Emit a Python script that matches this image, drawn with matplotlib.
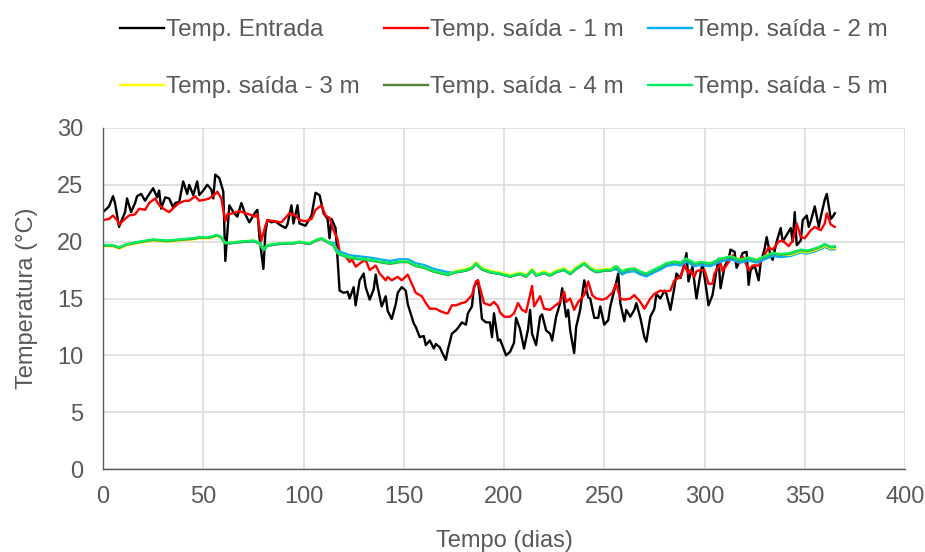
import matplotlib
matplotlib.use("Agg")
import matplotlib.pyplot as plt

plt.rcParams['font.family'] = ['Liberation Sans', 'DejaVu Sans']

# ---------------- dados ----------------
dias_entrada = [0, 3, 5, 6, 8, 11, 12, 14, 16, 17, 19, 21, 22, 25, 27, 28, 29, 31, 33, 35,
                36, 38, 40, 42, 43, 45, 47, 48, 50, 52, 54, 55, 56, 58, 60, 61, 63, 65, 67, 69,
                71, 73, 76, 77, 78, 80, 81, 82, 84, 86, 88, 91, 92, 94, 95, 97, 98, 101, 104, 106,
                108, 110, 112, 113, 114, 116, 117, 118, 120, 122, 123, 125, 126, 128, 130, 131, 133, 135, 136, 137,
                139, 141, 142, 144, 146, 147, 149, 151, 152, 155, 156, 158, 160, 161, 163, 165, 166, 168, 169, 171,
                172, 174, 176, 177, 179, 181, 182, 184, 185, 187, 188, 189, 191, 193, 194, 195, 197, 198, 200, 201,
                203, 205, 206, 208, 210, 212, 213, 214, 216, 218, 219, 221, 223, 224, 226, 228, 229, 231, 232, 233,
                235, 236, 238, 240, 242, 243, 245, 247, 248, 250, 252, 253, 255, 257, 258, 260, 261, 263, 265, 266,
                268, 270, 271, 273, 275, 276, 278, 280, 281, 283, 285, 286, 288, 290, 291, 292, 294, 296, 298, 299,
                301, 302, 304, 306, 307, 308, 310, 312, 313, 315, 316, 318, 319, 321, 322, 323, 325, 327, 328, 330,
                331, 333, 334, 336, 338, 339, 341, 343, 344, 345, 346, 348, 349, 351, 352, 353, 355, 357, 358, 360,
                361, 363, 364, 365]
temp_entrada = [22.6, 23.1, 24.0, 23.4, 21.3, 22.6, 23.8, 22.6, 23.4, 24.0, 24.2, 23.6, 23.9, 24.7, 23.9, 24.5, 22.9, 23.9, 23.8, 23.0,
                23.4, 23.5, 25.3, 24.2, 25.0, 24.1, 25.3, 24.1, 24.5, 25.0, 24.6, 23.8, 25.9, 25.6, 24.4, 18.3, 23.2, 22.6, 22.2, 23.4,
                22.4, 21.7, 22.6, 22.8, 20.4, 17.6, 20.8, 21.9, 21.7, 21.8, 21.5, 21.2, 21.5, 23.2, 21.6, 23.2, 21.6, 21.4, 22.3, 24.3,
                24.1, 22.5, 22.0, 20.3, 22.0, 21.2, 18.4, 15.7, 15.5, 15.6, 15.0, 16.0, 14.4, 16.6, 17.2, 16.0, 14.9, 15.8, 17.1, 16.0,
                14.3, 15.2, 13.9, 13.2, 14.5, 15.5, 16.0, 15.7, 14.5, 12.8, 12.5, 11.6, 11.7, 10.9, 11.3, 10.6, 11.0, 10.7, 10.3, 9.6,
                10.5, 11.9, 12.2, 12.4, 12.9, 12.7, 13.7, 14.3, 16.0, 16.6, 15.1, 13.2, 12.9, 12.9, 11.6, 13.7, 11.3, 11.4, 10.5, 10.0,
                10.3, 11.1, 13.3, 12.3, 10.6, 12.3, 14.0, 11.9, 10.9, 13.4, 13.6, 12.2, 11.9, 11.3, 13.4, 14.6, 15.9, 13.4, 14.0, 12.2,
                10.2, 12.5, 14.0, 16.6, 15.1, 15.0, 13.3, 13.3, 14.3, 12.7, 13.1, 14.3, 15.7, 17.2, 14.6, 13.0, 14.0, 13.4, 14.0, 14.6,
                13.3, 11.6, 11.2, 13.4, 14.1, 15.4, 15.0, 15.7, 15.4, 14.0, 16.0, 17.2, 16.8, 18.1, 19.0, 16.5, 17.8, 15.0, 17.2, 18.1,
                15.7, 14.4, 15.3, 17.5, 18.5, 15.9, 17.8, 18.5, 19.3, 19.1, 17.7, 18.5, 19.0, 19.1, 16.2, 17.5, 17.9, 16.6, 18.1, 19.4,
                20.4, 18.7, 18.4, 20.0, 21.2, 20.0, 20.6, 21.2, 20.0, 22.6, 19.7, 20.1, 21.9, 22.3, 21.3, 21.8, 23.1, 21.3, 22.2, 23.7,
                24.2, 22.0, 22.2, 22.5]

dias_1m = [0, 3, 5, 7, 8, 11, 13, 16, 18, 21, 23, 26, 28, 31, 33, 36, 38, 41, 43, 46,
           48, 51, 53, 56, 57, 59, 61, 62, 65, 68, 71, 73, 76, 77, 79, 81, 82, 89, 93, 96,
           98, 101, 104, 106, 109, 111, 113, 115, 117, 118, 121, 123, 124, 126, 129, 131, 133, 136, 138, 141,
           142, 144, 147, 149, 152, 154, 156, 159, 161, 163, 166, 168, 171, 172, 174, 176, 179, 181, 184, 186,
           187, 189, 190, 193, 195, 197, 198, 200, 203, 205, 207, 209, 211, 214, 215, 218, 220, 223, 225, 228,
           230, 231, 233, 235, 237, 240, 242, 244, 246, 249, 251, 254, 256, 258, 260, 263, 265, 268, 270, 273,
           275, 278, 280, 283, 285, 288, 290, 292, 293, 295, 296, 298, 300, 302, 304, 305, 308, 309, 312, 314,
           317, 319, 322, 324, 327, 329, 332, 334, 337, 339, 342, 344, 346, 348, 350, 353, 355, 358, 360, 361,
           363, 365]
temp_1m = [21.9, 22.0, 22.3, 21.9, 21.5, 22.0, 22.3, 22.4, 22.9, 22.8, 23.4, 23.8, 23.2, 22.8, 22.6, 23.1, 23.4, 23.6, 23.6, 24.0,
           23.6, 23.7, 23.8, 24.2, 24.4, 23.8, 21.8, 22.4, 22.5, 22.7, 22.5, 22.4, 22.2, 22.4, 20.1, 21.4, 21.9, 21.7, 22.5, 22.3,
           21.9, 21.8, 22.0, 22.8, 23.2, 22.3, 22.1, 21.0, 20.2, 19.1, 18.7, 18.2, 18.5, 17.8, 18.2, 18.4, 17.5, 17.9, 17.2, 16.6,
           16.9, 16.6, 16.9, 16.6, 17.1, 16.3, 15.5, 15.2, 14.6, 14.1, 14.1, 13.9, 13.7, 13.7, 14.4, 14.4, 14.6, 14.7, 15.3, 16.5,
           16.6, 15.3, 14.6, 14.4, 14.7, 14.3, 13.8, 13.4, 13.4, 13.7, 14.6, 14.0, 13.8, 16.1, 14.3, 15.2, 14.1, 14.0, 14.3, 14.7,
           15.6, 14.7, 15.0, 14.0, 14.7, 15.3, 16.5, 15.3, 15.0, 14.9, 15.0, 15.5, 16.3, 15.0, 14.9, 15.0, 15.3, 14.7, 14.1, 15.0,
           15.4, 15.7, 15.6, 15.7, 16.6, 16.9, 17.9, 17.2, 17.5, 16.9, 17.4, 17.5, 17.5, 16.3, 16.3, 17.2, 18.1, 17.4, 18.2, 18.8,
           18.1, 18.7, 17.5, 17.9, 17.9, 18.5, 19.5, 19.3, 20.0, 20.1, 19.6, 20.1, 21.6, 20.4, 20.3, 21.0, 21.3, 21.0, 21.6, 22.5,
           21.5, 21.3]

dias_prof = [0, 5, 8, 12, 15, 18, 25, 32, 38, 45, 48, 53, 57, 59, 61, 63, 68, 75, 78, 80,
             82, 88, 95, 98, 103, 107, 109, 112, 115, 117, 120, 123, 128, 133, 138, 143, 148, 152, 156, 160,
             165, 170, 172, 176, 181, 184, 186, 189, 193, 198, 203, 208, 211, 214, 216, 220, 223, 226, 230, 233,
             236, 240, 243, 246, 250, 253, 256, 259, 261, 265, 268, 271, 275, 278, 281, 285, 288, 291, 295, 298,
             303, 308, 313, 318, 322, 326, 330, 334, 338, 343, 348, 351, 355, 358, 360, 363, 365]
temp_2m = [19.65, 19.65, 19.45, 19.75, 19.85, 19.95, 20.15, 20.05, 20.15, 20.25, 20.35, 20.35, 20.55, 20.35, 19.85, 19.85, 19.95, 20.05, 19.85, 19.25,
           19.65, 19.8, 19.85, 19.95, 19.8, 20.15, 20.25, 19.95, 19.9, 19.2, 19.0, 18.8, 18.7, 18.6, 18.45, 18.3, 18.45, 18.45, 18.1, 17.95,
           17.6, 17.4, 17.3, 17.3, 17.45, 17.65, 18.05, 17.55, 17.3, 17.15, 16.92, 17.15, 16.92, 17.45, 17.02, 17.23, 17.02, 17.31, 17.51, 17.15,
           17.6, 18.05, 17.6, 17.31, 17.45, 17.45, 17.6, 17.11, 17.31, 17.4, 17.11, 16.95, 17.31, 17.55, 17.85, 18.0, 17.9, 18.25, 17.85, 17.95,
           17.85, 18.25, 18.45, 18.15, 18.35, 18.15, 18.45, 18.75, 18.65, 18.75, 19.05, 18.95, 19.15, 19.35, 19.55, 19.3, 19.35]
temp_3m = [19.6, 19.6, 19.4, 19.7, 19.8, 19.9, 20.1, 20.0, 20.1, 20.2, 20.3, 20.3, 20.5, 20.3, 19.9, 19.9, 20.0, 20.1, 19.9, 19.3,
           19.7, 19.85, 19.9, 20.0, 19.85, 20.2, 20.3, 20.0, 19.7, 19.0, 18.8, 18.6, 18.5, 18.4, 18.25, 18.1, 18.25, 18.25, 17.9, 17.75,
           17.4, 17.2, 17.1, 17.45, 17.6, 17.8, 18.2, 17.7, 17.45, 17.3, 17.07, 17.3, 17.07, 17.6, 17.17, 17.38, 17.17, 17.46, 17.66, 17.3,
           17.75, 18.2, 17.75, 17.46, 17.6, 17.6, 17.85, 17.36, 17.56, 17.65, 17.36, 17.2, 17.56, 17.8, 18.1, 18.25, 18.15, 18.5, 18.1, 18.2,
           18.1, 18.5, 18.7, 18.4, 18.6, 18.4, 18.7, 19.0, 18.9, 18.85, 19.15, 19.05, 19.25, 19.45, 19.65, 19.4, 19.45]
temp_4m = [19.65, 19.65, 19.45, 19.75, 19.85, 19.95, 20.15, 20.05, 20.15, 20.25, 20.35, 20.35, 20.55, 20.35, 19.85, 19.85, 19.95, 20.05, 19.85, 19.25,
           19.65, 19.8, 19.85, 19.95, 19.8, 20.15, 20.25, 19.95, 19.65, 18.95, 18.75, 18.55, 18.45, 18.35, 18.2, 18.05, 18.2, 18.2, 17.85, 17.7,
           17.35, 17.15, 17.05, 17.3, 17.45, 17.65, 18.05, 17.55, 17.3, 17.15, 16.92, 17.15, 16.92, 17.45, 17.02, 17.23, 17.02, 17.31, 17.51, 17.15,
           17.6, 18.05, 17.6, 17.31, 17.45, 17.45, 17.8, 17.31, 17.51, 17.6, 17.31, 17.15, 17.51, 17.75, 18.05, 18.2, 18.1, 18.45, 18.05, 18.15,
           18.05, 18.45, 18.65, 18.35, 18.55, 18.35, 18.65, 18.95, 18.85, 18.95, 19.25, 19.15, 19.35, 19.55, 19.75, 19.5, 19.55]
temp_5m = [19.7, 19.7, 19.5, 19.8, 19.9, 20.0, 20.2, 20.1, 20.2, 20.3, 20.4, 20.4, 20.6, 20.4, 19.9, 19.9, 20.0, 20.1, 19.9, 19.3,
           19.7, 19.85, 19.9, 20.0, 19.85, 20.2, 20.3, 20.0, 19.7, 19.0, 18.8, 18.6, 18.5, 18.4, 18.25, 18.1, 18.25, 18.25, 17.9, 17.75,
           17.4, 17.2, 17.1, 17.35, 17.5, 17.7, 18.1, 17.6, 17.35, 17.2, 16.97, 17.2, 16.97, 17.5, 17.07, 17.28, 17.07, 17.36, 17.56, 17.2,
           17.65, 18.1, 17.65, 17.36, 17.5, 17.5, 17.85, 17.36, 17.56, 17.65, 17.36, 17.2, 17.56, 17.8, 18.1, 18.25, 18.15, 18.5, 18.1, 18.2,
           18.1, 18.5, 18.7, 18.4, 18.6, 18.4, 18.7, 19.0, 18.9, 19.0, 19.3, 19.2, 19.4, 19.6, 19.8, 19.55, 19.6]

series = [
    (dias_entrada, temp_entrada, 'Temp. Entrada', '#000000'),
    (dias_1m, temp_1m, 'Temp. saída - 1 m', '#FF0000'),
    (dias_prof, temp_2m, 'Temp. saída - 2 m', '#00B0F0'),
    (dias_prof, temp_3m, 'Temp. saída - 3 m', '#FFFF00'),
    (dias_prof, temp_4m, 'Temp. saída - 4 m', '#548235'),
    (dias_prof, temp_5m, 'Temp. saída - 5 m', '#00F060'),
]

cinza = '#595959'

fig = plt.figure(figsize=(9.25, 5.52), dpi=100)
ax = fig.add_axes([103 / 925, 83 / 552, 802 / 925, 341 / 552])

linhas = []
for x, y, nome, cor in series:
    l, = ax.plot(x, y, color=cor, lw=1.7, label=nome)
    linhas.append(l)

ax.set_xlim(0, 400)
ax.set_ylim(0, 30)
ax.set_xticks(range(0, 401, 50))
ax.set_yticks(range(0, 31, 5))
ax.grid(True, color='#d9d9d9', lw=1.1)
ax.set_axisbelow(True)
for lado in ['top', 'right']:
    ax.spines[lado].set_visible(False)
for lado in ['left', 'bottom']:
    ax.spines[lado].set_color('#595959')
    ax.spines[lado].set_linewidth(1.0)
ax.tick_params(axis='both', length=0, labelsize=17, labelcolor=cinza)
ax.tick_params(axis='y', pad=14)
ax.tick_params(axis='x', pad=12)
ax.set_xlabel('Tempo (dias)', fontsize=17, color=cinza, labelpad=16)
ax.set_ylabel('Temperatura (°C)', fontsize=17, color=cinza, labelpad=14)

# legenda preenchida por linhas (ordem do Excel)
ordem = [0, 3, 1, 4, 2, 5]
fig.legend([linhas[i] for i in ordem], [series[i][2] for i in ordem],
           loc='upper center', bbox_to_anchor=(504 / 925, 1.005), ncol=3, frameon=False,
           fontsize=17.5, labelcolor=cinza, handlelength=1.8, handletextpad=0.1,
           columnspacing=1.0, labelspacing=1.45)

fig.savefig('out.png', dpi=100)
